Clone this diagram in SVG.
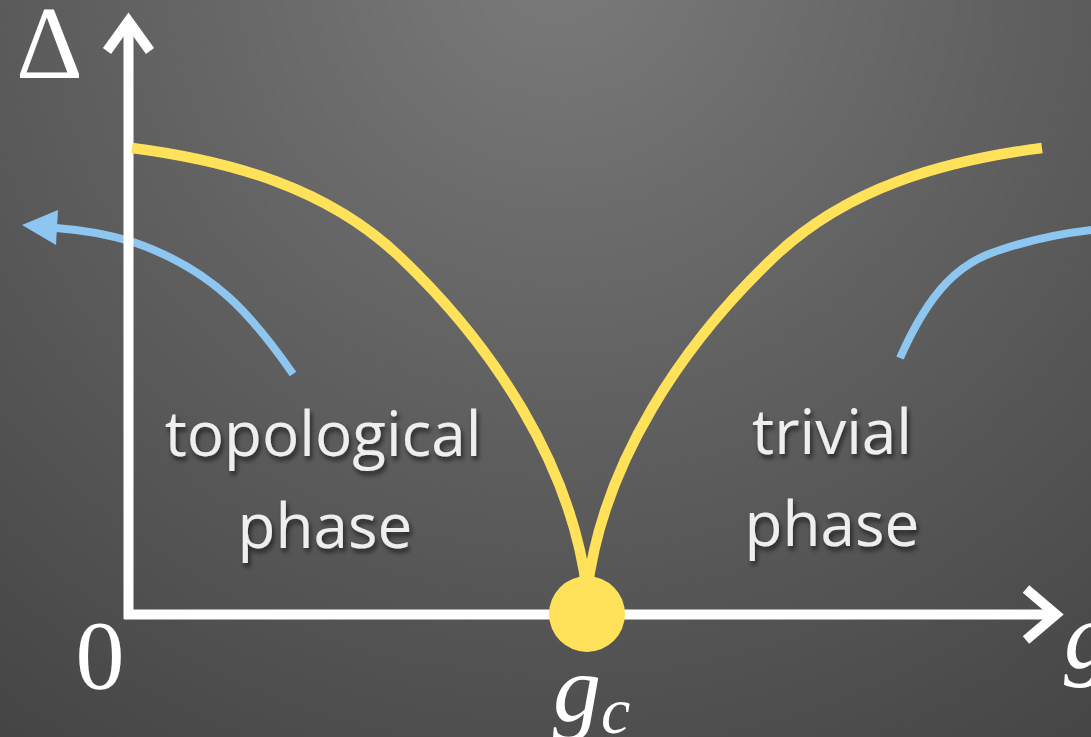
<svg xmlns="http://www.w3.org/2000/svg" width="1091" height="737" viewBox="0 0 1091 737">
  <defs>
    <radialGradient id="bg" gradientUnits="userSpaceOnUse" cx="560" cy="-40" r="950">
      <stop offset="0" stop-color="#7b7b7b"/>
      <stop offset="0.5" stop-color="#5f5f5f"/>
      <stop offset="1" stop-color="#454545"/>
    </radialGradient>
    <filter id="shadow" x="-10%" y="-20%" width="120%" height="150%">
      <feGaussianBlur in="SourceAlpha" stdDeviation="2.5"/>
      <feOffset dx="2" dy="4" result="b"/>
      <feComponentTransfer in="b" result="s"><feFuncA type="linear" slope="0.6"/></feComponentTransfer>
      <feMerge><feMergeNode in="s"/><feMergeNode in="SourceGraphic"/></feMerge>
    </filter>
  </defs>
  <style>
    .axis { fill: none; stroke: #ffffff; stroke-width: 10; }
    .yellow { fill: none; stroke: #ffe15a; stroke-width: 10.5; }
    .blue { fill: none; stroke: #8ec6f2; stroke-width: 8; }
    .label { font-family: "Open Sans", "Noto Sans", sans-serif; font-size: 62px; fill: #eeeeee; text-anchor: middle; }
    .math { font-family: "Liberation Serif", "DejaVu Serif", serif; fill: #ffffff; }
  </style>
  <rect width="1091" height="737" fill="url(#bg)"/>

  <g id="connectors">
    <g id="flow-left">
      <path class="blue" d="M293 374 C254 318 215 270 133 242 C110 235 85 230 56 228"/>
      <polygon points="22,225 58,210 56,245" fill="#8ec6f2"/>
    </g>
    <g id="flow-right">
      <path class="blue" d="M900 358 C930 290 960 262 1000 250 C1030 240 1060 233 1100 229"/>
    </g>
    <g id="axes">
      <path class="axis" d="M128.5 619 V22"/>
      <path class="axis" d="M107 51 L128.5 21 L150 51" stroke-linejoin="miter"/>
      <path class="axis" d="M124 614.5 H1056"/>
      <path class="axis" d="M1026 589 L1056 614.5 L1026 640" stroke-linejoin="miter"/>
    </g>
    <g id="gap-curves">
      <path class="yellow" d="M132 148 C232 161 327.5 188.1 400 257 C492 344.5 571.9 463.9 587 592"/>
      <path class="yellow" d="M1042 148 C942 161 846.5 188.1 774 257 C682 344.5 602.1 463.9 587 592"/>
    </g>
  </g>

  <g id="critical-point">
    <circle cx="587" cy="614" r="38" fill="#ffe15a"/>
  </g>

  <g id="label-topological" filter="url(#shadow)">
    <text class="label" x="323" y="456">topological</text>
    <text class="label" x="325" y="548">phase</text>
  </g>
  <g id="label-trivial" filter="url(#shadow)">
    <text class="label" x="832" y="454">trivial</text>
    <text class="label" x="832" y="546">phase</text>
  </g>

  <g id="axis-labels">
    <text class="math" x="16" y="78" font-size="104">Δ</text>
    <text class="math" x="100" y="688" font-size="98" text-anchor="middle">0</text>
    <text class="math" x="553" y="721" font-size="96" font-style="italic">g<tspan font-size="66" dy="12">c</tspan></text>
    <text class="math" x="1064" y="668" font-size="96" font-style="italic">g</text>
  </g>
</svg>
